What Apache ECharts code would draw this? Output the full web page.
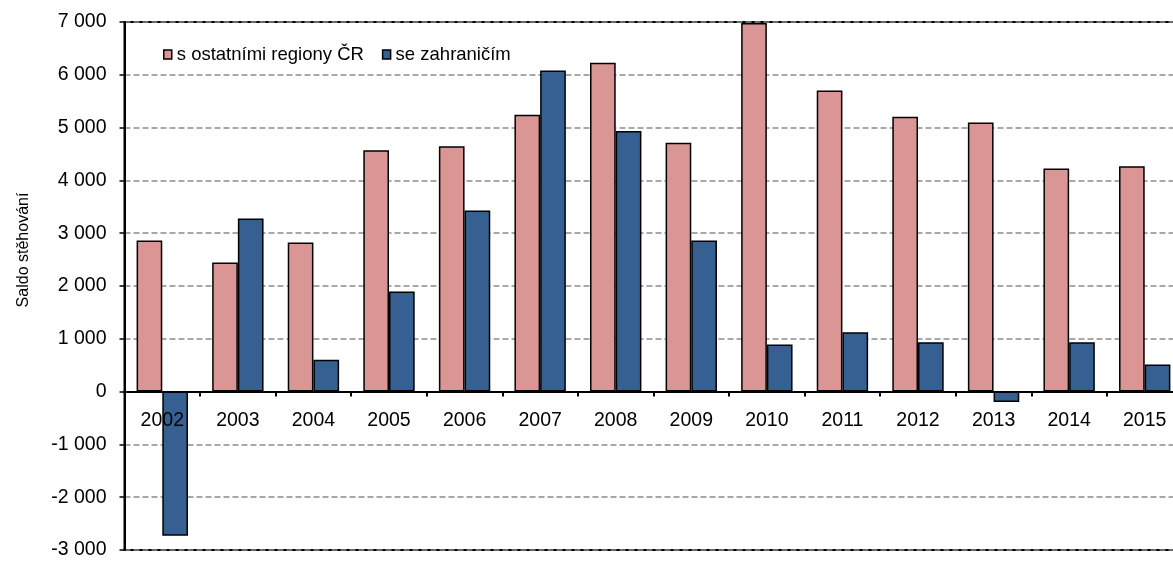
<!DOCTYPE html>
<html><head><meta charset="utf-8">
<script src="https://cdn.jsdelivr.net/npm/echarts@6/dist/echarts.min.js"></script>
<style>html,body{margin:0;padding:0;background:#fff}#c{width:1173px;height:561px}</style>
</head><body><div id="c"></div>
<script>
const categories = ['2002','2003','2004','2005','2006','2007','2008','2009','2010','2011','2012','2013','2014','2015'];
const seriesNames = ['s ostatními regiony ČR', 'se zahraničím'];
const regionsCR = [2860, 2445, 2825, 4570, 4645, 5245, 6230, 4715, 6980, 5705, 5205, 5095, 4225, 4270];
const abroad = [-2730, 3280, 605, 1895, 3430, 6080, 4935, 2860, 890, 1125, 935, -195, 935, 512];
const yTitle = 'Saldo stěhování';

const font = 'Liberation Sans, Arial, sans-serif';
const yMin = -3000, yMax = 7000;
const gridTop = 22, gridBottom = 11, H = 561;
const plotH = H - gridTop - gridBottom;
const zeroOffset = -plotH * (0 - yMin) / (yMax - yMin);

const chart = echarts.init(document.getElementById('c'), null, {renderer: 'canvas'});
const fmt = v => { const s = Math.abs(v).toString().replace(/\B(?=(\d{3})+(?!\d))/g, ' '); return (v < 0 ? '-' : '') + s; };
chart.setOption({
  animation: false,
  backgroundColor: '#fff',
  grid: {left: 124.5, width: 1058, top: gridTop, bottom: gridBottom, outerBoundsMode: 'none', containLabel: false,
         show: true, borderColor: '#000', borderWidth: 2, backgroundColor: 'transparent'},
  legend: {
    left: 158, top: 40, itemWidth: 8, itemHeight: 9, itemGap: 18, icon: 'rect',
    textStyle: {fontFamily: font, fontSize: 18.5, color: '#000'},
    data: seriesNames.map(n => ({name: n, itemStyle: {borderColor: '#000', borderWidth: 1.5}}))
  },
  graphic: [{
    type: 'text', x: 16, y: 250, rotation: Math.PI / 2,
    style: {text: yTitle, fontFamily: font, fontSize: 16, fill: '#000', align: 'center', verticalAlign: 'top'}
  }],
  xAxis: [{
    type: 'category', data: categories,
    axisLine: {onZero: true, lineStyle: {color: '#000', width: 2}},
    axisTick: {show: true, length: 5, inside: false, lineStyle: {color: '#000', width: 2}},
    axisLabel: {show: false},
    z: 5
  }, {
    type: 'category', data: categories, position: 'bottom', offset: zeroOffset,
    axisLine: {show: false, onZero: false}, axisTick: {show: false}, splitLine: {show: false},
    axisLabel: {fontFamily: font, fontSize: 19.5, color: '#000', margin: 19},
    z: 10
  }],
  yAxis: {
    type: 'value', min: yMin, max: yMax, interval: 1000,
    axisLine: {show: true, lineStyle: {color: '#000', width: 2}},
    axisTick: {show: true, length: 5, lineStyle: {color: '#000', width: 1.5}},
    axisLabel: {fontFamily: font, fontSize: 19.5, color: '#000', margin: 18, formatter: fmt},
    splitLine: {show: true, lineStyle: {color: '#8c8c8c', width: 1.5, type: [6, 3]}}
  },
  series: [
    {name: seriesNames[0], type: 'bar', data: regionsCR, barGap: '0%', barCategoryGap: '32%', z: 3,
     itemStyle: {color: '#DA9694', borderColor: '#000', borderWidth: 1.5}},
    {name: seriesNames[1], type: 'bar', data: abroad, barGap: '0%', barCategoryGap: '32%', z: 3,
     itemStyle: {color: '#376092', borderColor: '#000', borderWidth: 1.5}}
  ]
});
</script></body></html>
